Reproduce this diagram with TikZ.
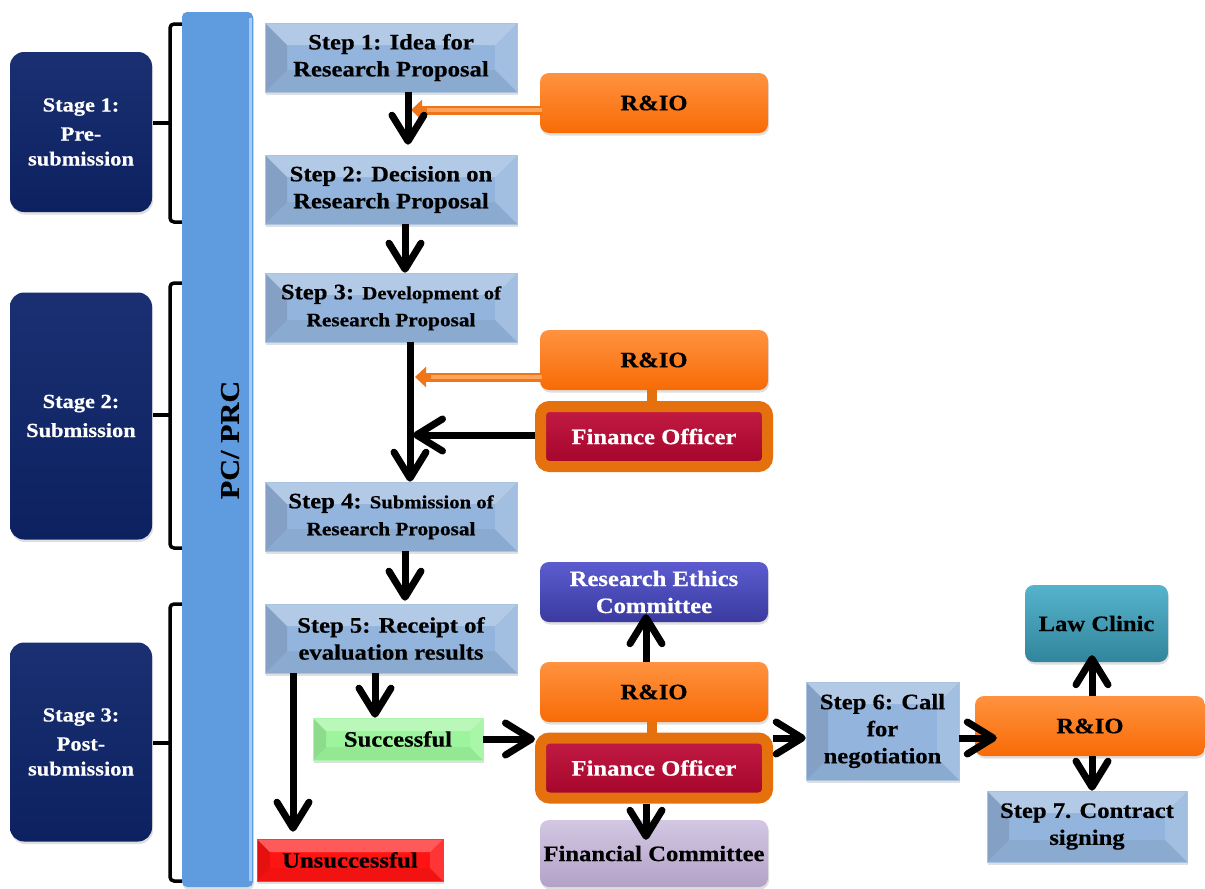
\documentclass[tikz,border=0pt]{standalone}
\usepackage{fontspec}
\setmainfont{Liberation Serif}[FakeStretch=1.12, BoldFeatures={FakeBold=0.5}]
\usetikzlibrary{arrows.meta,shadows,calc}

\definecolor{navy}{HTML}{0D2160}
\definecolor{navytop}{HTML}{1A3072}
\definecolor{barblue}{HTML}{5F9BDF}
\definecolor{barlight}{HTML}{A4CDF6}
\definecolor{stepblue}{HTML}{93B4DC}
\definecolor{rioorange}{HTML}{F86B05}
\definecolor{riolight}{HTML}{FF9240}
\definecolor{fobord}{HTML}{E4700E}
\definecolor{fored}{HTML}{A3042A}
\definecolor{foredtop}{HTML}{C41C44}
\definecolor{recblue}{HTML}{3A3AA0}
\definecolor{reclight}{HTML}{5C5CD0}
\definecolor{fclav}{HTML}{B3A2C7}
\definecolor{fclight}{HTML}{D3C7E3}
\definecolor{lawteal}{HTML}{31859C}
\definecolor{lawlight}{HTML}{55B3CC}
\definecolor{okgreen}{HTML}{9CF59C}
\definecolor{badred}{HTML}{FF1414}
\definecolor{arrorange}{HTML}{EE7618}
\definecolor{arrlight}{HTML}{FCA45C}

\begin{document}
\begin{tikzpicture}[x=1pt,y=-1pt,
  txt/.style={font=\bfseries\fontsize{22}{27}\selectfont, align=center, inner sep=0pt},
  softshadow/.style={drop shadow={shadow xshift=1pt,shadow yshift=-2.5pt,opacity=.25}},
  bevel/.style={path picture={
     \coordinate (bsw) at (path picture bounding box.south west);
     \coordinate (bnw) at (path picture bounding box.north west);
     \coordinate (bne) at (path picture bounding box.north east);
     \coordinate (bse) at (path picture bounding box.south east);
     \fill[black,opacity=.10] (bsw) -- (bnw) -- ([shift={(#1,-#1)}]bnw) -- ([shift={(#1,#1)}]bsw) -- cycle;
     \fill[white,opacity=.30] (bnw) -- (bne) -- ([shift={(-#1,-#1)}]bne) -- ([shift={(#1,-#1)}]bnw) -- cycle;
     \fill[white,opacity=.14] (bne) -- (bse) -- ([shift={(-#1,#1)}]bse) -- ([shift={(-#1,-#1)}]bne) -- cycle;
     \fill[black,opacity=.05] (bse) -- (bsw) -- ([shift={(#1,#1)}]bsw) -- ([shift={(-#1,#1)}]bse) -- cycle;
  }},
  stepbox/.style={txt, rectangle, fill=stepblue, draw=stepblue!80!white, line width=.6pt,
    bevel=22pt, softshadow, minimum width=252pt, minimum height=69pt},
  resultbox/.style={txt, rectangle, line width=.6pt, bevel=13pt, softshadow, minimum height=42pt},
  roundbox/.style={txt, rounded corners=9pt, minimum width=228pt, minimum height=60pt, softshadow},
  rio/.style={roundbox, top color=riolight, middle color=rioorange, bottom color=rioorange},
  fo/.style={txt, text=white, rounded corners=9pt, draw=fobord, line width=11pt,
    top color=foredtop, bottom color=fored, minimum width=227pt, minimum height=60pt, softshadow},
  stage/.style={txt, text=white, font=\bfseries\fontsize{20}{25}\selectfont, rounded corners=14pt,
    top color=navytop, middle color=navy, bottom color=navy, minimum width=142pt, softshadow},
  flow/.style={line width=7pt, black, -{Straight Barb[length=26pt,width=32pt,round]}},
  feed/.style={line width=9pt, arrorange, -{Triangle[length=11pt,width=20pt]}},
  feedcore/.style={line width=3.5pt, arrlight},
  bracket/.style={line width=3.5pt, black, rounded corners=4pt},
]
\useasboundingbox (0,0) rectangle (1205,889);

% stage boxes
\node[stage, minimum height=160pt] (st1) at (81,132) {Stage 1:\\[4pt]Pre-\\submission};
\node[stage, minimum height=247pt] (st2) at (81,416) {Stage 2:\\[4pt]Submission};
\node[stage, minimum height=199pt] (st3) at (81,742) {Stage 3:\\[4pt]Post-\\submission};

% brackets grouping the steps of each stage
\draw[bracket] (182,24) -- (170,24) -- (170,123) -- (170,222) -- (182,222);
\draw[bracket, rounded corners=0pt] (170,123) -- (153,123);
\draw[bracket] (182,283) -- (170,283) -- (170,415) -- (170,548) -- (182,548);
\draw[bracket, rounded corners=0pt] (170,415) -- (153,415);
\draw[bracket] (182,604) -- (170,604) -- (170,743) -- (170,881) -- (182,881);
\draw[bracket, rounded corners=0pt] (170,743) -- (153,743);

% PC / PRC bar
\node[fill=barblue, rounded corners=5pt, minimum width=71pt, minimum height=875pt, inner sep=0pt, softshadow] (bar) at (217.5,449.5) {};
\draw[barlight, line width=3pt] ([xshift=-2.5pt,yshift=-6pt]bar.north east) -- ([xshift=-2.5pt,yshift=6pt]bar.south east);
\node[txt, font=\bfseries\fontsize{27}{30}\selectfont, rotate=90] (pc) at (230,440) {PC/ PRC};

% main steps
\node[stepbox] (step1) at (391,57.5) {Step 1: Idea for\\Research Proposal};
\node[stepbox] (step2) at (391,189.5) {Step 2: Decision on\\Research Proposal};
\node[stepbox] (step3) at (391,307.5) {Step 3: {\fontsize{18.5}{27}\selectfont Development of}\\{\fontsize{19}{27}\selectfont Research Proposal}};
\node[stepbox] (step4) at (391,516.5) {Step 4: {\fontsize{18.5}{27}\selectfont Submission of}\\{\fontsize{19}{27}\selectfont Research Proposal}};
\node[stepbox] (step5) at (391,638.5) {Step 5: Receipt of\\evaluation results};
\node[resultbox, fill=okgreen, draw=okgreen!85!white, minimum width=170pt] (succ) at (398,739) {Successful};
\node[resultbox, fill=badred, draw=badred!85!white, minimum width=186pt] (unsucc) at (350,860) {Unsuccessful};

% offices and committees
\node[rio] (rio1) at (654,103) {R\&IO};
\node[rio] (rio2) at (654,360) {R\&IO};
\node[fo] (fo1) at (654,436.5) {Finance Officer};
\node[roundbox, text=white, top color=reclight, middle color=recblue, bottom color=recblue] (rec) at (654,592) {Research Ethics\\Committee};
\node[rio] (rio3) at (654,692) {R\&IO};
\node[fo] (fo2) at (654,768) {Finance Officer};
\node[roundbox, minimum height=67pt, top color=fclight, middle color=fclav, bottom color=fclav] (fc) at (654,853.5) {Financial Committee};

\node[stepbox, minimum width=153pt, minimum height=98pt] (step6) at (882.5,731) {Step 6: Call\\for\\negotiation};
\node[rio, minimum width=230pt] (rio4) at (1090,726) {R\&IO};
\node[roundbox, minimum width=143pt, minimum height=77pt, top color=lawlight, middle color=lawteal, bottom color=lawteal] (law) at (1096.5,623.5) {Law Clinic};
\node[stepbox, minimum width=200pt, minimum height=71pt] (step7) at (1087,826.5) {Step 7. Contract\\signing};

% links between R&IO and Finance Officer
\draw[fobord, line width=10pt] ([xshift=-2pt]rio2.south) -- ([xshift=-2pt]fo1.north);
\draw[fobord, line width=10pt] ([xshift=-2pt]rio3.south) -- ([xshift=-2pt]fo2.north);

% joining points on the main line
\coordinate (j1) at (411,110);
\coordinate (j2) at (415,377);
\coordinate (j3) at (413,435);

% R&IO support arrows
\draw[feed] ([xshift=2pt]rio1.west |- j1) -- (j1);
\draw[feedcore] ([xshift=2pt]rio1.west |- j1) -- ([xshift=16pt]j1);
\draw[feed] ([xshift=2pt]rio2.west |- j2) -- (j2);
\draw[feedcore] ([xshift=2pt]rio2.west |- j2) -- ([xshift=16pt]j2);

% flow arrows
\draw[flow] ([xshift=17pt]step1.south) -- ([xshift=17pt,yshift=10pt]step2.north);
\draw[flow] ([xshift=14pt]step2.south) -- ([xshift=14pt]step3.north);
\draw[flow] ([xshift=19pt]step3.south) -- ([xshift=19pt]step4.north);
\draw[flow] (fo1.west |- j3) -- (j3);
\draw[flow] ([xshift=14pt]step4.south) -- ([xshift=14pt,yshift=3pt]step5.north);
\draw[flow] ([xshift=-16pt]step5.south) -- ([xshift=-23pt]succ.north);
\draw[flow] ([xshift=-98pt]step5.south) -- ([xshift=-57pt,yshift=7pt]unsucc.north);
\draw[flow] (succ.east) -- (succ.east -| fo2.west);
\draw[flow] ([xshift=-8pt]rio3.north) -- ([xshift=-8pt,yshift=8pt]rec.south);
\draw[flow] ([xshift=-8pt]fo2.south) -- ([xshift=-8pt,yshift=-20pt]fc.north);
\draw[flow] ([yshift=30pt]fo2.east) coordinate (f2e) -- (f2e -| step6.west);
\draw[flow] ([yshift=-7pt]step6.east) -- ([xshift=22pt,yshift=-12pt]rio4.west);
\draw[flow] ([xshift=2pt]rio4.north) -- ([xshift=-4.5pt,yshift=7pt]law.south);
\draw[flow] ([xshift=2pt]rio4.south) -- ([xshift=5pt]step7.north);
\end{tikzpicture}
\end{document}
